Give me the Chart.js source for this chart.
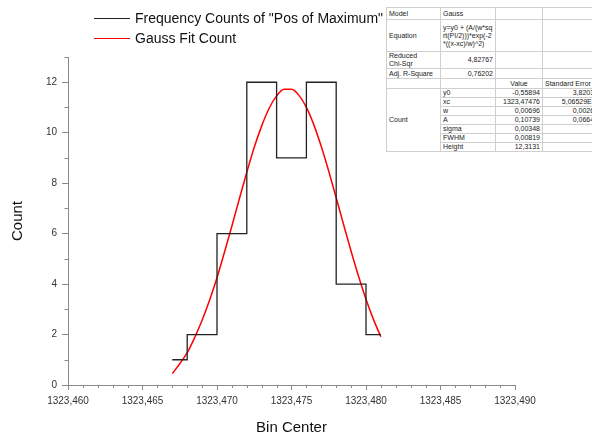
<!DOCTYPE html>
<html>
<head>
<meta charset="utf-8">
<script src="https://cdn.jsdelivr.net/npm/chart.js@4.4.1/dist/chart.umd.min.js"></script>
<style>
html, body { margin:0; padding:0; background:#fff; overflow:hidden; width:592px; height:437px; }
#wrap { position:relative; width:592px; height:437px; overflow:hidden; }
#c { position:absolute; left:0; top:0; }
.leg { position:absolute; left:94px; height:20px; font:14px "Liberation Sans", Arial, sans-serif; color:#111; white-space:nowrap; }
.leg .ln { position:absolute; left:0; top:9px; width:36px; height:0; }
.leg .tx { position:absolute; left:41px; top:1px; line-height:16px; }
#tbl { position:absolute; left:386px; top:7px; border-collapse:collapse; table-layout:fixed; width:214px;
  font:7px "Liberation Sans", Arial, sans-serif; color:#222; background:#fff; border:1px solid #9a9a9a; }
#tbl td { border:1px solid #cfcfcf; padding:0 2px; line-height:8px; white-space:nowrap; overflow:hidden; vertical-align:middle; }
#tbl td.r { text-align:right; }
#tbl td.c { text-align:center; }
#tbl td.l { text-align:left; }
</style>
</head>
<body>
<div id="wrap">
<canvas id="c" width="592" height="437"></canvas>
<div class="leg" style="top:9px"><div class="ln" style="border-top:1.3px solid #222"></div><div class="tx">Frequency Counts of "Pos of Maximum"</div></div>
<div class="leg" style="top:29px"><div class="ln" style="border-top:1.6px solid #ff0000"></div><div class="tx">Gauss Fit Count</div></div>
<table id="tbl">
<colgroup><col style="width:54px"><col style="width:55px"><col style="width:47px"><col style="width:58px"></colgroup>
<tr style="height:12px"><td>Model</td><td>Gauss</td><td></td><td></td></tr>
<tr style="height:32px"><td>Equation</td><td>y=y0 + (A/(w*sq<br>rt(PI/2)))*exp(-2<br>*((x-xc)/w)^2)</td><td></td><td></td></tr>
<tr style="height:17px"><td>Reduced<br>Chi-Sqr</td><td class="r">4,82767</td><td></td><td></td></tr>
<tr style="height:10px"><td>Adj. R-Square</td><td class="r">0,76202</td><td></td><td></td></tr>
<tr style="height:10px"><td></td><td></td><td class="c">Value</td><td class="l">Standard Error</td></tr>
<tr style="height:9px"><td rowspan="7">Count</td><td>y0</td><td class="r">-0,55894</td><td class="r">3,82037</td></tr>
<tr style="height:9px"><td>xc</td><td class="r">1323,47476</td><td class="r">5,06529E-4</td></tr>
<tr style="height:9px"><td>w</td><td class="r">0,00696</td><td class="r">0,00263</td></tr>
<tr style="height:9px"><td>A</td><td class="r">0,10739</td><td class="r">0,06643</td></tr>
<tr style="height:9px"><td>sigma</td><td class="r">0,00348</td><td></td></tr>
<tr style="height:9px"><td>FWHM</td><td class="r">0,00819</td><td></td></tr>
<tr style="height:9px"><td>Height</td><td class="r">12,3131</td><td></td></tr>
</table>
</div>
<script>
// ---- data ----
const binCenters = [1323.467, 1323.469, 1323.471, 1323.473, 1323.475, 1323.477, 1323.479, 1323.481];
const counts     = [1, 2, 6, 12, 9, 12, 4, 2];

const fitX = [1323.4670, 1323.4675, 1323.4680, 1323.4685, 1323.4690, 1323.4695, 1323.4700,
              1323.4705, 1323.4710, 1323.4715, 1323.4720, 1323.4725, 1323.4730, 1323.4735,
              1323.4740, 1323.4745, 1323.4750, 1323.4755, 1323.4760, 1323.4765, 1323.4770,
              1323.4775, 1323.4780, 1323.4785, 1323.4790, 1323.4795, 1323.4800, 1323.4805,
              1323.4810];
const fitY = [0.45, 0.84, 1.28, 1.88, 2.57, 3.36, 4.25,
              5.26, 6.30, 7.38, 8.43, 9.42, 10.27, 10.97,
              11.46, 11.72, 11.72, 11.48, 11.00, 10.31, 9.45,
              8.47, 7.42, 6.35, 5.30, 4.31, 3.40, 2.60,
              1.91];

const xTickValues = [1323.460, 1323.465, 1323.470, 1323.475, 1323.480, 1323.485, 1323.490];
const xTickLabels = ['1323,460', '1323,465', '1323,470', '1323,475', '1323,480', '1323,485', '1323,490'];
const yTickValues = [0, 2, 4, 6, 8, 10, 12];
const yTickLabels = ['0', '2', '4', '6', '8', '10', '12'];

const xMin = 1323.460, xMax = 1323.490, yMin = 0, yMax = 13;

const histData = binCenters.map((x, i) => ({ x: x, y: counts[i] }));
const fitData = fitX.map((x, i) => ({ x: x, y: fitY[i] }));

const AXIS = '#8a8a8a';

const minorTicks = {
  id: 'minorTicks',
  afterDraw(chart) {
    const ctx = chart.ctx, xs = chart.scales.x, ys = chart.scales.y;
    ctx.save();
    ctx.strokeStyle = AXIS;
    ctx.lineWidth = 1;
    ctx.beginPath();
    const xStep = (xTickValues[1] - xTickValues[0]) / 5;
    for (let k = 0; k <= 30; k++) {
      if (k % 5 === 0) continue;
      const px = Math.round(xs.getPixelForValue(xMin + k * xStep)) + 0.5;
      ctx.moveTo(px, ys.bottom);
      ctx.lineTo(px, ys.bottom + 3);
    }
    for (let v = 1; v <= yMax; v += 2) {
      const py = Math.round(ys.getPixelForValue(v)) + 0.5;
      ctx.moveTo(xs.left - 3.5, py);
      ctx.lineTo(xs.left, py);
    }
    ctx.stroke();
    ctx.restore();
  }
};

new Chart(document.getElementById('c'), {
  type: 'line',
  data: {
    datasets: [
      {
        label: 'Frequency Counts of "Pos of Maximum"',
        data: histData,
        stepped: 'middle',
        borderColor: '#222222',
        borderWidth: 1.3,
        pointRadius: 0,
        fill: false
      },
      {
        label: 'Gauss Fit Count',
        data: fitData,
        borderColor: '#ff0000',
        borderWidth: 1.5,
        pointRadius: 0,
        cubicInterpolationMode: 'monotone',
        fill: false
      }
    ]
  },
  options: {
    responsive: false,
    animation: false,
    events: [],
    layout: { padding: { top: 57, right: 77, left: 0, bottom: 0 } },
    plugins: { legend: { display: false }, tooltip: { enabled: false } },
    scales: {
      x: {
        type: 'linear',
        min: xMin, max: xMax,
        afterBuildTicks: s => { s.ticks = xTickValues.map(v => ({ value: v })); },
        afterFit: s => { s.height = 52; },
        ticks: {
          autoSkip: false, maxRotation: 0, padding: 5,
          color: '#333', font: { family: '"Liberation Sans", Arial, sans-serif', size: 10 },
          callback: (v, i) => xTickLabels[i]
        },
        grid: { drawOnChartArea: false, drawTicks: true, tickLength: 5, color: AXIS },
        border: { display: true, color: AXIS, width: 1 },
        title: { display: true, text: 'Bin Center', color: '#111',
                 font: { family: '"Liberation Sans", Arial, sans-serif', size: 15 },
                 padding: { top: 0, bottom: 0 } }
      },
      y: {
        type: 'linear',
        min: yMin, max: yMax,
        afterBuildTicks: s => { s.ticks = yTickValues.map(v => ({ value: v })); },
        afterFit: s => { s.width = 68; },
        ticks: {
          autoSkip: false, padding: 5,
          color: '#333', font: { family: '"Liberation Sans", Arial, sans-serif', size: 10 },
          callback: (v, i) => yTickLabels[i]
        },
        grid: { drawOnChartArea: false, drawTicks: true, tickLength: 6, color: AXIS },
        border: { display: true, color: AXIS, width: 1 },
        title: { display: true, text: 'Count', color: '#111',
                 font: { family: '"Liberation Sans", Arial, sans-serif', size: 15 },
                 padding: { top: 9, bottom: 0 } }
      }
    }
  },
  plugins: [minorTicks]
});
</script>
</body>
</html>
